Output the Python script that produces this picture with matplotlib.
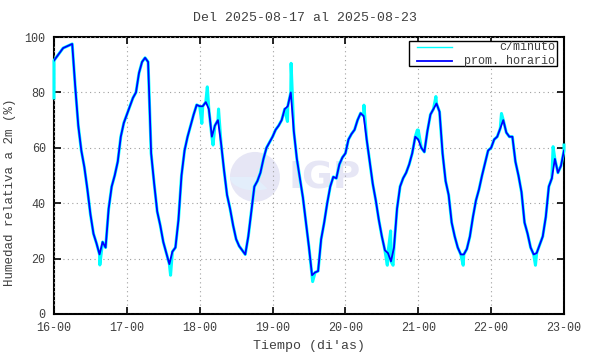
"""
Humedad relativa a 2m - serie semanal (estilo gnuplot).
"""

import numpy as np
import matplotlib
matplotlib.use("Agg")
import matplotlib.pyplot as plt
import matplotlib.patches as mpatches

# promedio horario (%), una fila por dia, 16-00 ... 22-23, mas 23-00
hum_d16 = [91.5, 93, 94.5, 96, 96.5, 97, 97.5, 82, 68, 59, 53, 45,
           36, 29, 25.5, 21.5, 26, 24, 38, 46, 50, 55, 64, 69]
hum_d17 = [72, 75, 78, 80, 87, 91, 92.5, 91, 58, 47, 37, 32,
           26, 22, 18, 22.5, 24, 34, 50, 59, 64, 68, 72, 75.5]
hum_d18 = [75, 75, 76.5, 74, 64, 68, 70, 62, 52, 43, 38, 32,
           27, 24.5, 23, 21.5, 28, 37, 46, 48, 51, 56, 60, 62]
hum_d19 = [64, 66.5, 68, 70, 74, 75, 80, 66, 56, 49, 42, 33,
           24, 14, 15, 15.5, 27, 33, 40, 46, 49.5, 49, 54, 56.5]
hum_d20 = [58, 63, 65, 66.5, 70, 72.5, 71.5, 63, 55, 47, 41, 34,
           28, 23, 22, 19, 24, 38, 46, 49, 51, 54, 58, 64]
hum_d21 = [63, 60, 58.5, 66, 72, 74, 76, 73, 58, 48, 43, 33,
           28, 24, 21.5, 21.5, 23.5, 28, 35, 41, 45, 50, 54.5, 59]
hum_d22 = [60, 63, 64, 67, 70, 65.5, 64, 64, 55, 50, 44, 33,
           29, 24, 21.5, 22, 25, 28, 35, 46, 49, 56, 51, 53.5]
hum_end = [59]

# picos visibles de la serie por minuto (horas desde 16-00, %)
spike_t = [0.0, 15.1, 38.4, 48.7, 50.5, 52.4, 54.2, 76.9, 78.1, 85.2,
           102.1, 109.8, 110.9, 111.7, 119.7, 120.0, 125.8, 134.8,
           147.4, 158.6, 164.4, 168.0]
spike_v = [78, 17.7, 14, 68.8, 82, 61, 74, 69.5, 90.5, 11.7,
           75.4, 17.6, 30, 17.6, 66.4, 66.4, 78.5, 17.6,
           72.4, 17.6, 60.4, 61]

day_labels = ["16-00", "17-00", "18-00", "19-00", "20-00", "21-00", "22-00", "23-00"]

hourly = np.array(hum_d16 + hum_d17 + hum_d18 + hum_d19 + hum_d20 + hum_d21 + hum_d22 + hum_end)
t_hourly = np.arange(len(hourly))

# serie por minuto: horas + picos leidos
pairs = sorted(list(zip(spike_t, spike_v)) + list(zip(t_hourly, hourly)))
t_min = np.array([p[0] for p in pairs])
v_min = np.array([p[1] for p in pairs])

plt.rcParams["font.family"] = ["Liberation Mono", "DejaVu Sans Mono"]
txt_color = "#404040"

fig = plt.figure(figsize=(5.9, 3.54), dpi=100)
ax = fig.add_axes([54 / 590, 1 - 314 / 354, 510 / 590, 277 / 354])

# marca de agua IGP
ax.add_patch(mpatches.Ellipse((0.394, 0.495), 0.098, 0.18, transform=ax.transAxes,
                              facecolor="#e6e6f5", edgecolor="none", zorder=0))
ax.add_patch(mpatches.Wedge((0.394, 0.495), 0.049, 180, 300, transform=ax.transAxes,
                            facecolor="#e3eefb", edgecolor="none", zorder=0))
ax.text(0.46, 0.49, "IGP", transform=ax.transAxes, fontsize=27, fontweight="bold",
        family="DejaVu Sans", color="#e6e6f5", va="center", ha="left", zorder=0)

ax.plot(t_min, v_min, color="#00ffff", lw=2.2, zorder=2, clip_on=False)
ax.plot(t_hourly, hourly, color="#0000ff", lw=1.3, zorder=3)

ax.set_xlim(0, 168)
ax.set_ylim(0, 100)
ax.set_xticks(np.arange(0, 169, 24))
ax.set_xticklabels(day_labels)
ax.set_yticks(np.arange(0, 101, 20))
ax.grid(True, color="#a0a0a0", linestyle=(0, (1, 3)), lw=0.8)
ax.tick_params(direction="in", length=5, width=1.2, top=True, right=True,
               labelsize=8.5, labelcolor=txt_color, pad=6)
for sp in ax.spines.values():
    sp.set_linewidth(1.5)
    sp.set_zorder(1)

ax.set_xlabel("Tiempo (di'as)", fontsize=9.5, color=txt_color, labelpad=4)
ax.set_ylabel("Humedad relativa a 2m (%)", fontsize=9, color=txt_color)
ax.yaxis.set_label_coords(-0.075, 0.44)
fig.text(0.517, 1 - 18 / 354, "Del 2025-08-17 al 2025-08-23", ha="center", va="center",
         fontsize=9.5, color=txt_color)

# leyenda estilo gnuplot (texto alineado a la derecha)
ax.add_patch(mpatches.Rectangle((0.696, 0.895), 0.29, 0.091, transform=ax.transAxes,
                                facecolor="white", edgecolor="black", lw=1.0, zorder=4))
ax.plot([0.711, 0.780], [0.964, 0.964], transform=ax.transAxes, color="#00ffff", lw=1.0, zorder=5)
ax.plot([0.711, 0.780], [0.914, 0.914], transform=ax.transAxes, color="#0000ff", lw=1.3, zorder=5)
ax.text(0.982, 0.964, "c/minuto", transform=ax.transAxes, ha="right", va="center",
        fontsize=8.5, color=txt_color, zorder=5)
ax.text(0.982, 0.914, "prom. horario", transform=ax.transAxes, ha="right", va="center",
        fontsize=8.5, color=txt_color, zorder=5)

fig.savefig("out.png", dpi=100)
